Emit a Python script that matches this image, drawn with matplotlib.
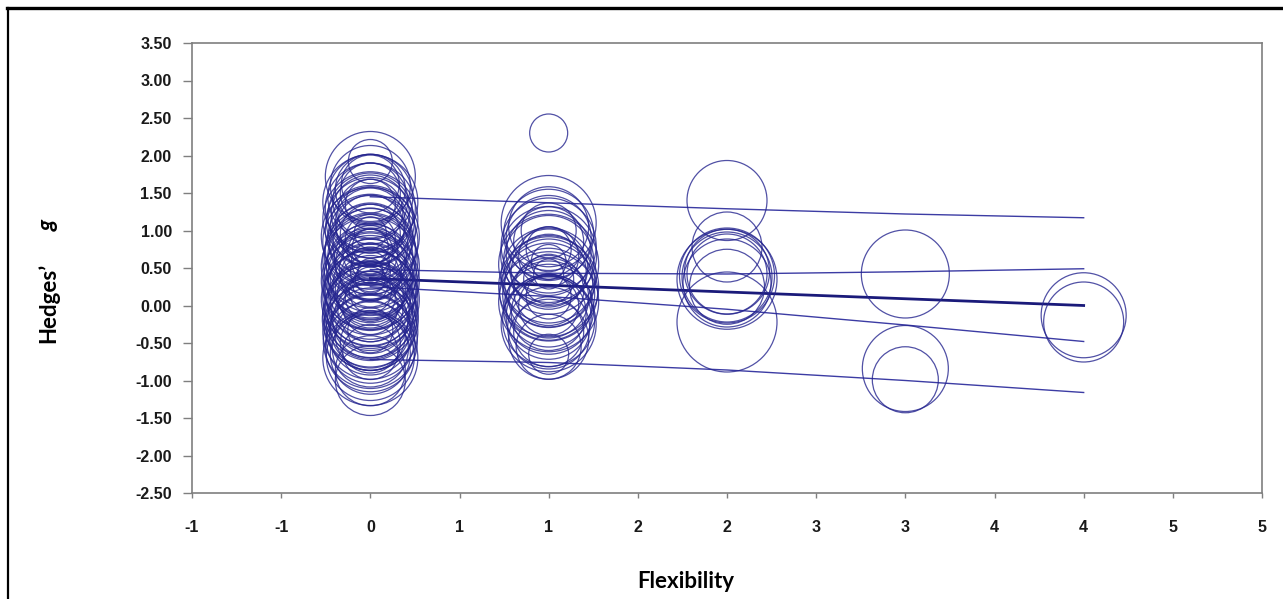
import matplotlib
matplotlib.use("Agg")
import matplotlib.pyplot as plt
import numpy as np
from matplotlib.lines import Line2D

# ---- data ----
# study effect sizes (Hedges' g) and bubble weights, grouped by flexibility level
g_flex0 = [1.72, 1.92, 1.60, 1.55, 1.45, 1.40, 1.30, 1.25, 1.20, 1.15, 1.10, 1.05,
           1.00, 0.95, 0.90, 0.85, 0.80, 0.75, 0.70, 0.65, 0.60, 0.55, 0.50, 0.45,
           0.42, 0.38, 0.35, 0.30, 0.28, 0.25, 0.20, 0.15, 0.12, 0.10, 0.05, 0.00,
           -0.05, -0.10, -0.15, -0.20, -0.25, -0.30, -0.35, -0.40, -0.45, -0.50,
           -0.55, -0.65, -0.70, -0.87, -1.00, -0.62, 0.72, 1.35, 0.18, 0.58,
           1.50, 1.38, 1.22, 1.12, 1.02, 0.92, 0.82, 0.68, 0.62, 0.52, 0.48, 0.40,
           0.33, 0.27, 0.22, 0.14, 0.08, 0.02, -0.08, -0.12, -0.18, -0.28, -0.38,
           -0.48, -0.58, -0.68, 0.88, 0.78, 0.36, -0.02, 1.62, 0.97, 0.46, -0.33]
w_flex0 = [90, 44, 80, 70, 85, 75, 90, 65, 85, 95, 70, 80,
           90, 60, 85, 95, 75, 90, 55, 85, 95, 70, 88, 40,
           92, 60, 80, 95, 35, 85, 70, 90, 50, 95, 80, 90,
           65, 95, 85, 75, 92, 80, 95, 70, 88, 60,
           90, 80, 95, 70, 70, 55, 45, 50, 42, 38,
           60, 95, 78, 88, 68, 98, 82, 92, 72, 98, 62, 85,
           98, 75, 92, 66, 98, 85, 92, 78, 96, 88, 82,
           94, 76, 88, 50, 36, 30, 55, 58, 32, 25, 45]

g_flex1 = [2.30, 1.10, 1.05, 0.95, 0.85, 0.80, 0.70, 0.65, 0.60, 0.55, 0.45, 0.40,
           0.35, 0.30, 0.25, 0.20, 0.15, 0.10, 0.05, 0.00, -0.05, -0.15, -0.25,
           -0.35, -0.45, -0.65, -0.55, 0.75, 1.00,
           0.90, 0.68, 0.50, 0.32, 0.18, 0.02, -0.10, -0.20, -0.30, 0.58, 0.42, 0.12]
w_flex1 = [38, 95, 80, 90, 70, 95, 85, 60, 90, 100, 75, 95,
           50, 88, 100, 70, 92, 80, 100, 60, 90, 85, 95,
           70, 80, 40, 65, 45, 55,
           85, 96, 78, 92, 98, 86, 75, 92, 82, 35, 30, 45]

g_flex2 = [1.40, 0.78, 0.45, 0.40, 0.38, 0.35, 0.30, 0.42, 0.25, -0.22]
w_flex2 = [80, 70, 85, 95, 90, 100, 88, 80, 75, 100]

g_flex3 = [0.42, -0.84, -0.99]
w_flex3 = [88, 86, 66]

g_flex4 = [-0.13, -0.22]
w_flex4 = [85, 80]

# meta-regression line with confidence and prediction limits
line_x = [0, 1, 2, 3, 4]
reg_line = [0.36, 0.27, 0.18, 0.09, 0.00]
upper_ci = [0.48, 0.43, 0.42, 0.45, 0.49]
lower_ci = [0.25, 0.12, -0.05, -0.26, -0.48]
upper_pi = [1.45, 1.37, 1.29, 1.22, 1.17]
lower_pi = [-0.72, -0.76, -0.86, -1.00, -1.16]

groups = [(0, g_flex0, w_flex0), (1, g_flex1, w_flex1), (2, g_flex2, w_flex2),
          (3, g_flex3, w_flex3), (4, g_flex4, w_flex4)]

navy = "#25258f"

fig = plt.figure(figsize=(12.83, 5.99), dpi=100)
ax = fig.add_axes([192 / 1283, 1 - 493 / 599, (1262 - 192) / 1283, (493 - 43) / 599])

# lines first, bubbles on top
for band in [upper_pi, upper_ci, lower_ci, lower_pi]:
    ax.plot(line_x, band, color="#3c3ca4", lw=1.0, zorder=2)
ax.plot(line_x, reg_line, color="#1a1a7a", lw=2.0, zorder=2)

for xv, gs, ws in groups:
    xs = np.full(len(gs), xv, dtype=float)
    sizes = (0.72 * np.array(ws)) ** 2
    ax.scatter(xs, gs, s=sizes, facecolors="none", edgecolors=navy,
               linewidths=0.9, alpha=0.8, zorder=3)

ax.set_xlim(-1, 5)
ax.set_ylim(-2.5, 3.5)

xt = np.arange(-1, 5.01, 0.5)
ax.set_xticks(xt)
ax.set_xticklabels([str(int(np.sign(v) * np.floor(abs(v) + 0.5))) for v in xt])
yt = np.arange(-2.5, 3.51, 0.5)
ax.set_yticks(yt)
ax.set_yticklabels(["%.2f" % v for v in yt])

for lab in ax.get_xticklabels() + ax.get_yticklabels():
    lab.set_fontfamily("Liberation Sans")
    lab.set_fontweight("bold")
    lab.set_fontsize(11.5)
    lab.set_color("#1a1a1a")

for sp in ax.spines.values():
    sp.set_color("#7f7f7f")
    sp.set_linewidth(1.2)
ax.tick_params(axis="y", direction="out", length=6.5, width=1, color="#7f7f7f", pad=8)
ax.tick_params(axis="x", direction="out", length=3.5, width=1, color="#7f7f7f", pad=16)

# axis titles
fig.text(686 / 1283, 1 - 582 / 599, "Flexibility", family="Lato", weight="bold",
         fontsize=16, ha="center", va="center")
fig.text(48 / 1283, 1 - 303 / 599, "Hedges\u2019", family="Lato", weight="bold",
         fontsize=16, ha="center", va="center", rotation=90)
fig.text(48 / 1283, 1 - 225 / 599, "g", family="Lato", weight="bold", style="italic",
         fontsize=16, ha="center", va="center", rotation=90)

# frame around the picture (top and left edges)
fig.add_artist(Line2D([7 / 1283, 1], [1 - 7.5 / 599, 1 - 7.5 / 599],
                      transform=fig.transFigure, color="black", lw=2.4))
fig.add_artist(Line2D([7.5 / 1283, 7.5 / 1283], [0, 1 - 7.5 / 599],
                      transform=fig.transFigure, color="black", lw=1.6))

fig.savefig("out.png", dpi=100)
